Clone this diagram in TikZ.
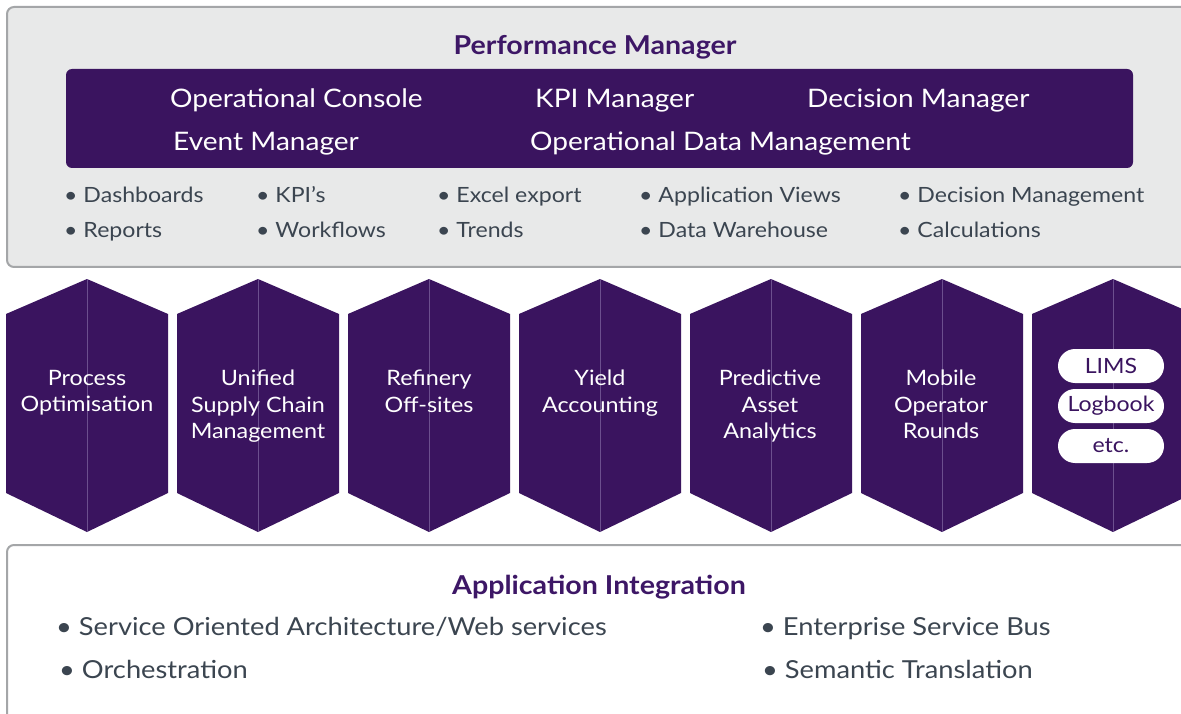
\documentclass[tikz,border=0pt]{standalone}
\usepackage{fontspec}
\setmainfont{Lato}[FakeStretch=1.1]
\definecolor{purp}{HTML}{3A145F}
\definecolor{headp}{HTML}{3D1766}
\definecolor{topgray}{HTML}{E8E9E9}
\definecolor{edgegray}{HTML}{A4A6A8}
\definecolor{bultext}{HTML}{3B4550}
\definecolor{hexline}{HTML}{6C4F8E}
\tikzset{
  heading/.style={font=\fontsize{26}{30}\selectfont\bfseries, text=headp, inner sep=0pt, anchor=mid},
  modtext/.style={font=\fontsize{25.5}{30}\selectfont, text=white, inner sep=0pt, anchor=mid west},
  bul/.style={font=\fontsize{21}{26}\selectfont, text=bultext, inner sep=0pt, anchor=mid west},
  bigbul/.style={font=\fontsize{24.8}{30}\selectfont, text=bultext, inner sep=0pt, anchor=mid west},
  hexlabel/.style={font=\fontsize{21.2}{26.5}\selectfont, text=white, inner sep=0pt, align=center, anchor=north},
  pill/.style={fill=white, rounded corners=17, minimum width=106, minimum height=34, inner sep=0pt, text=purp, font=\fontsize{21}{24}\selectfont},
  panel/.style={draw=edgegray, line width=2pt, rounded corners=7}
}
\begin{document}
\begin{tikzpicture}[x=1pt,y=-1pt]
\useasboundingbox (0,0) rectangle (1181,714);
\clip (0,0) rectangle (1181,714);
\fill[white] (0,0) rectangle (1181,714);
% top panel
\draw[panel, fill=topgray] (7,7) rectangle (1200,267);
\node[heading] (pm) at (595,52) {Performance Manager};
\fill[purp, rounded corners=6] (66,69) rectangle (1133,168);
\node[modtext] (oc) at (170,105) {Operational Console};
\node[modtext] (kpim) at (535,105) {KPI Manager};
\node[modtext] (dm) at (807,105) {Decision Manager};
\node[modtext] (em) at (173,148) {Event Manager};
\node[modtext] (odm) at (530,148) {Operational Data Management};
% bullets
\node[bul] (b1) at (64,200) {• Dashboards};
\node[bul] (b2) at (64,235) {• Reports};
\node[bul] (b3) at (256,200) {• KPI’s};
\node[bul] (b4) at (256,235) {• Workflows};
\node[bul] (b5) at (437,200) {• Excel export};
\node[bul] (b6) at (437,235) {• Trends};
\node[bul] (b7) at (639,200) {• Application Views};
\node[bul] (b8) at (639,235) {• Data Warehouse};
\node[bul] (b9) at (898,200) {• Decision Management};
\node[bul] (b10) at (898,235) {• Calculations};
% hexagons
\foreach \i in {0,...,6}{
  \pgfmathsetmacro\cx{87+171*\i}
  \fill[purp] (\cx,279) -- (\cx+81,314) -- (\cx+81,493) -- (\cx,532) -- (\cx-81,493) -- (\cx-81,314) -- cycle;
  \draw[hexline, line width=0.6pt] (\cx,279) -- (\cx,532);
}
\node[hexlabel] (h1) at (87,370) {Process\\Optimisation};
\node[hexlabel] (h2) at (258,370) {Unified\\Supply Chain\\Management};
\node[hexlabel] (h3) at (429,370) {Refinery\\Off-sites};
\node[hexlabel] (h4) at (600,370) {Yield\\Accounting};
\node[hexlabel] (h5) at (770,370) {Predictive\\Asset\\Analytics};
\node[hexlabel] (h6) at (941,370) {Mobile\\Operator\\Rounds};
\node[pill] (lims) at (1111,366) {LIMS};
\node[pill] (log) at (1111,406) {Logbook};
\node[pill] (etc) at (1111,446) {etc.};
% bottom panel
\draw[panel, fill=white] (7,545) rectangle (1200,740);
\node[heading] (ai) at (599,592) {Application Integration};
\node[bigbul] (s1) at (56,633) {• Service Oriented Architecture/Web services};
\node[bigbul] (s2) at (59,676) {• Orchestration};
\node[bigbul] (s3) at (760,633) {• Enterprise Service Bus};
\node[bigbul] (s4) at (762,676) {• Semantic Translation};
\end{tikzpicture}
\end{document}
